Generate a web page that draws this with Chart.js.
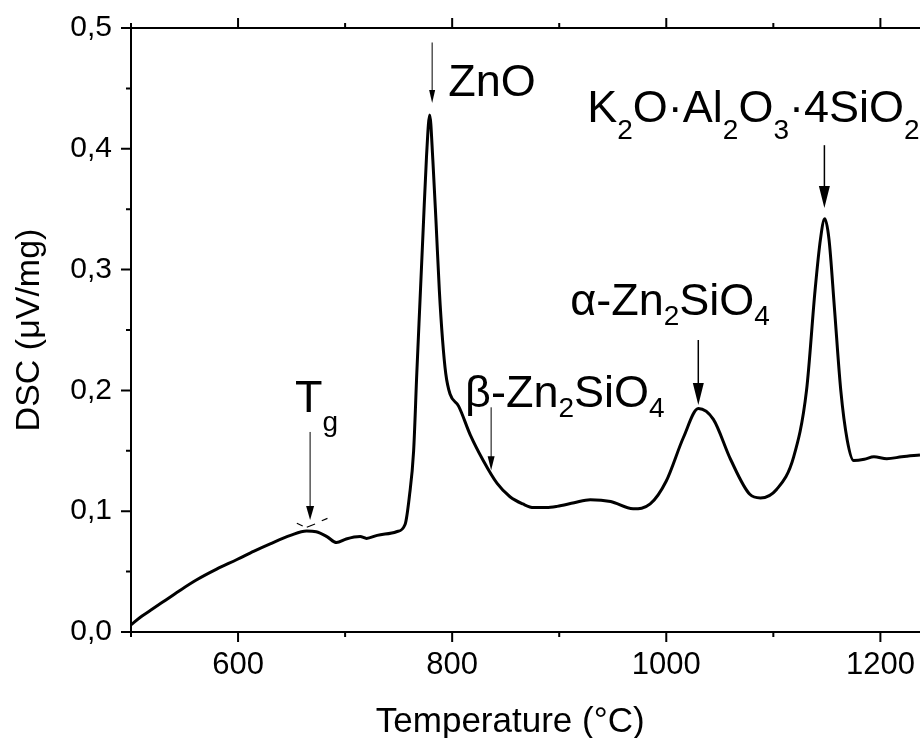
<!DOCTYPE html>
<html>
<head>
<meta charset="utf-8">
<script src="https://cdn.jsdelivr.net/npm/chart.js@4.4.0/dist/chart.umd.min.js"></script>
<style>
  html, body { margin: 0; padding: 0; background: #ffffff; overflow: hidden; }
  canvas { display: block; }
</style>
</head>
<body>
<canvas id="dscChart" width="920" height="738"></canvas>
<script>
// DSC-Kurve
const temperature = [500, 510, 520, 530, 545, 561, 580, 599, 615, 630,
  649, 664, 673, 683, 692, 701, 714, 720, 730, 748,
  756, 760, 764, 767, 770, 773, 776, 779, 782, 785,
  788, 791, 794, 798, 806, 817, 829, 842, 854, 866,
  876, 888, 898, 914, 929, 948, 969, 985, 1000, 1016,
  1030, 1044, 1060, 1078, 1088, 1103, 1119, 1131, 1139, 1144,
  1148, 1152, 1157, 1163, 1169, 1175, 1185, 1194, 1206, 1220, 1237];
const dsc = [0.006, 0.013, 0.019, 0.025, 0.034, 0.043, 0.052, 0.060, 0.067, 0.073,
  0.080, 0.0836, 0.083, 0.079, 0.074, 0.077, 0.079, 0.0775, 0.080, 0.083,
  0.089, 0.112, 0.150, 0.215, 0.275, 0.335, 0.393, 0.428, 0.390, 0.338,
  0.283, 0.242, 0.214, 0.197, 0.187, 0.163, 0.142, 0.123, 0.112, 0.106,
  0.103, 0.103, 0.104, 0.107, 0.1095, 0.108, 0.102, 0.106, 0.125, 0.161,
  0.185, 0.176, 0.143, 0.114, 0.111, 0.118, 0.145, 0.200, 0.283, 0.325,
  0.342, 0.325, 0.269, 0.200, 0.159, 0.142, 0.143, 0.145, 0.1435, 0.145, 0.1465];

// Achsen-Ticks
const xMajor = [600, 800, 1000, 1200];
const xMinor = [500, 700, 900, 1100];
const yMajor = [0, 0.1, 0.2, 0.3, 0.4, 0.5];
const yMinor = [0.05, 0.15, 0.25, 0.35, 0.45];

const xTitle = 'Temperature (°C)';
const yTitle = 'DSC (μV/mg)';

const FONT = '"Liberation Sans", Arial, sans-serif';

// Beschriftungen der Peaks: Textteile, '_' = tiefgestellt
const notes = [
  { parts: ['T', '_g'], t: 653.3, v: 0.1821, drop: 19 },
  { parts: ['ZnO'], t: 796.3, v: 0.4437, drop: 0 },
  { parts: ['β-Zn', '_2', 'SiO', '_4'], t: 812.1, v: 0.1863, drop: 10 },
  { parts: ['α-Zn', '_2', 'SiO', '_4'], t: 910.3, v: 0.2624, drop: 10 },
  { parts: ['K', '_2', 'O·Al', '_2', 'O', '_3', '·4SiO', '_2'], t: 926.2, v: 0.4222, drop: 17 },
];

// Pfeile: Temperatur, Start- und Endwert, Pfeilspitze
const arrows = [
  { t: 667.3, from: 0.1656, to: 0.0927, len: 14, w: 8, lw: 1 },
  { t: 781.3, from: 0.488, to: 0.438, len: 13, w: 6, lw: 1 },
  { t: 836.4, from: 0.186, to: 0.134, len: 14, w: 7, lw: 1 },
  { t: 1029.9, from: 0.2417, to: 0.188, len: 22, w: 11, lw: 1.5 },
  { t: 1147.7, from: 0.403, to: 0.351, len: 22, w: 11, lw: 1.5 },
];

// Tangenten am Tg (kurze Striche)
const tangents = [
  [[654.9, 0.090], [660.4, 0.0877]],
  [[664.2, 0.0867], [671.9, 0.0894]],
  [[678.2, 0.0921], [683.5, 0.0941]],
];

function drawRich(ctx, parts, x, y, drop) {
  let cx = x;
  parts.forEach(p => {
    const sub = p.startsWith('_');
    const txt = sub ? p.slice(1) : p;
    ctx.font = (sub ? '28px ' : '45px ') + FONT;
    ctx.fillText(txt, cx, sub ? y + drop : y);
    cx += ctx.measureText(txt).width;
  });
}

// keine Extra-Abstände für Tick-Labels
function noPadding(s) {
  s.paddingTop = 0;
  s.paddingBottom = 0;
  s.paddingLeft = 0;
  s.paddingRight = 0;
}

//plugin block: Rahmen, Ticks, Titel, Annotationen
const frameAndNotes = {
  id: 'frameAndNotes',
  afterDatasetsDraw(chart) {
    const { ctx, chartArea: a, scales: { x, y } } = chart;
    ctx.save();
    ctx.strokeStyle = '#000000';
    ctx.fillStyle = '#000000';
    ctx.lineWidth = 2;

    ctx.beginPath();
    ctx.moveTo(a.left, a.top);
    ctx.lineTo(a.left, a.bottom);
    ctx.lineTo(a.right, a.bottom);
    ctx.moveTo(a.left, a.top);
    ctx.lineTo(a.right, a.top);
    ctx.stroke();

    ctx.beginPath();
    const xTick = (v, len) => {
      const px = x.getPixelForValue(v);
      ctx.moveTo(px, a.bottom);
      ctx.lineTo(px, a.bottom + len);
      ctx.moveTo(px, a.top);
      ctx.lineTo(px, a.top - len);
    };
    const yTick = (v, len) => {
      const py = y.getPixelForValue(v);
      ctx.moveTo(a.left, py);
      ctx.lineTo(a.left - len, py);
    };
    xMajor.forEach(v => xTick(v, 10));
    xMinor.forEach(v => xTick(v, 5));
    yMajor.forEach(v => yTick(v, 10));
    yMinor.forEach(v => yTick(v, 5));
    ctx.stroke();

    // Achsentitel
    ctx.font = '35px ' + FONT;
    ctx.textAlign = 'center';
    ctx.textBaseline = 'alphabetic';
    ctx.fillText(xTitle, x.getPixelForValue(854.2), y.getPixelForValue(-0.0828));
    ctx.save();
    ctx.translate(30, (a.top + a.bottom) / 2);
    ctx.rotate(-Math.PI / 2);
    ctx.textBaseline = 'middle';
    ctx.font = '34px ' + FONT;
    ctx.fillText(yTitle, 0, 0);
    ctx.restore();

    // Peak-Beschriftungen
    ctx.textAlign = 'left';
    ctx.textBaseline = 'alphabetic';
    notes.forEach(n => {
      drawRich(ctx, n.parts, x.getPixelForValue(n.t), y.getPixelForValue(n.v), n.drop);
    });

    // Pfeile
    arrows.forEach(ar => {
      const px = x.getPixelForValue(ar.t);
      const y0 = y.getPixelForValue(ar.from);
      const y1 = y.getPixelForValue(ar.to);
      ctx.lineWidth = ar.lw;
      ctx.beginPath();
      ctx.moveTo(px, y0);
      ctx.lineTo(px, y1 - ar.len + 1);
      ctx.stroke();
      ctx.beginPath();
      ctx.moveTo(px, y1);
      ctx.lineTo(px - ar.w / 2, y1 - ar.len);
      ctx.lineTo(px + ar.w / 2, y1 - ar.len);
      ctx.closePath();
      ctx.fill();
    });

    ctx.lineWidth = 1.2;
    ctx.beginPath();
    tangents.forEach(([p, q]) => {
      ctx.moveTo(x.getPixelForValue(p[0]), y.getPixelForValue(p[1]));
      ctx.lineTo(x.getPixelForValue(q[0]), y.getPixelForValue(q[1]));
    });
    ctx.stroke();
    ctx.restore();
  }
};

document.addEventListener('DOMContentLoaded', function() {
  const ctx = document.getElementById('dscChart').getContext('2d');
  new Chart(ctx, {
    type: 'line',
    data: {
      datasets: [{
        data: temperature.map((t, i) => ({ x: t, y: dsc[i] })),
        borderColor: '#000000',
        borderWidth: 3,
        pointRadius: 0,
        fill: false,
        cubicInterpolationMode: 'monotone',
      }],
    },
    options: {
      responsive: false,
      animation: false,
      layout: { padding: { top: 28, right: 0, left: 0, bottom: 0 } },
      plugins: {
        legend: { display: false },
        tooltip: { enabled: false },
      },
      scales: {
        x: {
          type: 'linear',
          min: 500,
          max: 1237,
          afterBuildTicks: s => { s.ticks = xMajor.map(v => ({ value: v })); },
          afterFit: s => { s.height = 106; noPadding(s); },
          grid: { display: false, drawTicks: false },
          border: { display: false },
          ticks: {
            color: '#000000',
            padding: 15,
            maxRotation: 0,
            autoSkip: false,
            font: { family: FONT, size: 31 },
            callback: v => String(v),
          },
        },
        y: {
          min: 0,
          max: 0.5,
          afterBuildTicks: s => { s.ticks = yMajor.map(v => ({ value: v })); },
          afterFit: s => { s.width = 131; noPadding(s); },
          grid: { display: false, drawTicks: false },
          border: { display: false },
          ticks: {
            color: '#000000',
            padding: 19,
            font: { family: FONT, size: 30 },
            callback: v => v.toFixed(1).replace('.', ','),
          },
        },
      },
    },
    plugins: [frameAndNotes],
  });
});
</script>
</body>
</html>
